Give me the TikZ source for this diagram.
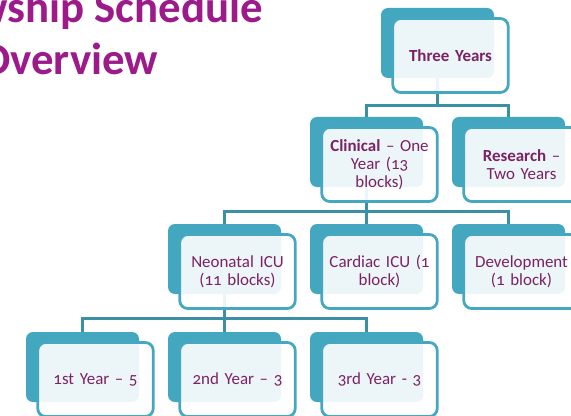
\documentclass[tikz,border=0pt]{standalone}
\usepackage{fontspec}
\setmainfont{Carlito}[Numbers=OldStyle]
\definecolor{tback}{HTML}{43A7C0}
\definecolor{tline}{HTML}{45A8C0}
\definecolor{tlink}{HTML}{3B90A6}
\definecolor{tword}{HTML}{7B2164}
\definecolor{ttitle}{HTML}{9C1A8A}
\begin{document}
\begin{tikzpicture}[x=1bp,y=1bp,
						back/.style={rounded corners=7bp,fill=tback,
						minimum width=113bp,minimum height=70bp,inner sep=0pt},
						front/.style={rounded corners=8bp,draw=tline,line width=2.8bp,
						fill=white,fill opacity=0.9,text opacity=1,
						minimum width=115.5bp,minimum height=74bp,text width=104bp,
						align=center,inner sep=0pt,text=tword,
						font=\fontsize{17}{18}\selectfont},
						link/.style={draw=tlink,line width=3.2bp},
						heading/.style={text=ttitle,inner sep=0pt,
						font=\fontsize{45}{52}\selectfont\bfseries}]

		\useasboundingbox (0,0) rectangle (571,415);
		\clip (0,0) rectangle (571,415);

		\node[heading,anchor=base east] (title) at (263bp,392bp) {Fellowship Schedule};
		\node[heading,anchor=base west] (subtitle) at (-20bp,340bp) {Overview};

		\node[back] (yearsbg) at (437.5bp,372bp) {};
		\node[back] (clinicalbg) at (366.5bp,263bp) {};
		\node[back] (researchbg) at (508.5bp,263bp) {};
		\node[back] (neonatalbg) at (224.5bp,156bp) {};
		\node[back] (cardiacbg) at (366.5bp,156bp) {};
		\node[back] (develbg) at (508.5bp,156bp) {};
		\node[back] (firstbg) at (82.5bp,48bp) {};
		\node[back] (secondbg) at (224.5bp,48bp) {};
		\node[back] (thirdbg) at (366.5bp,48bp) {};

		\draw[link] (yearsbg.south) |- ([yshift=11bp]clinicalbg.north) -- (clinicalbg.north);
		\draw[link] (yearsbg.south) |- ([yshift=11bp]researchbg.north) -- (researchbg.north);
		\draw[link] (clinicalbg.south) |- ([yshift=12bp]neonatalbg.north) -- (neonatalbg.north);
		\draw[link] (clinicalbg.south) |- ([yshift=12bp]cardiacbg.north) -- (cardiacbg.north);
		\draw[link] (clinicalbg.south) |- ([yshift=12bp]develbg.north) -- (develbg.north);
		\draw[link] (neonatalbg.south) |- ([yshift=13bp]firstbg.north) -- (firstbg.north);
		\draw[link] (neonatalbg.south) |- ([yshift=13bp]secondbg.north) -- (secondbg.north);
		\draw[link] (neonatalbg.south) |- ([yshift=13bp]thirdbg.north) -- (thirdbg.north);

		\node[front] (years) at (450.5bp,359.5bp) {\textbf{Three Years}};
		\node[front] (clinical) at (379.5bp,250.5bp) {\textbf{Clinical} – One\\Year (13\\blocks)};
		\node[front] (research) at (521.5bp,250.5bp) {\textbf{Research} –\\Two Years};
		\node[front] (neonatal) at (237.5bp,143.5bp) {Neonatal ICU\\(11 blocks)};
		\node[front] (cardiac) at (379.5bp,143.5bp) {Cardiac ICU (1\\block)};
		\node[front] (devel) at (521.5bp,143.5bp) {Development\\(1 block)};
		\node[front] (first) at (95.5bp,35.5bp) {1st Year – 5};
		\node[front] (second) at (237.5bp,35.5bp) {2nd Year – 3};
		\node[front] (third) at (379.5bp,35.5bp) {3rd Year - 3};

	\end{tikzpicture}
\end{document}
